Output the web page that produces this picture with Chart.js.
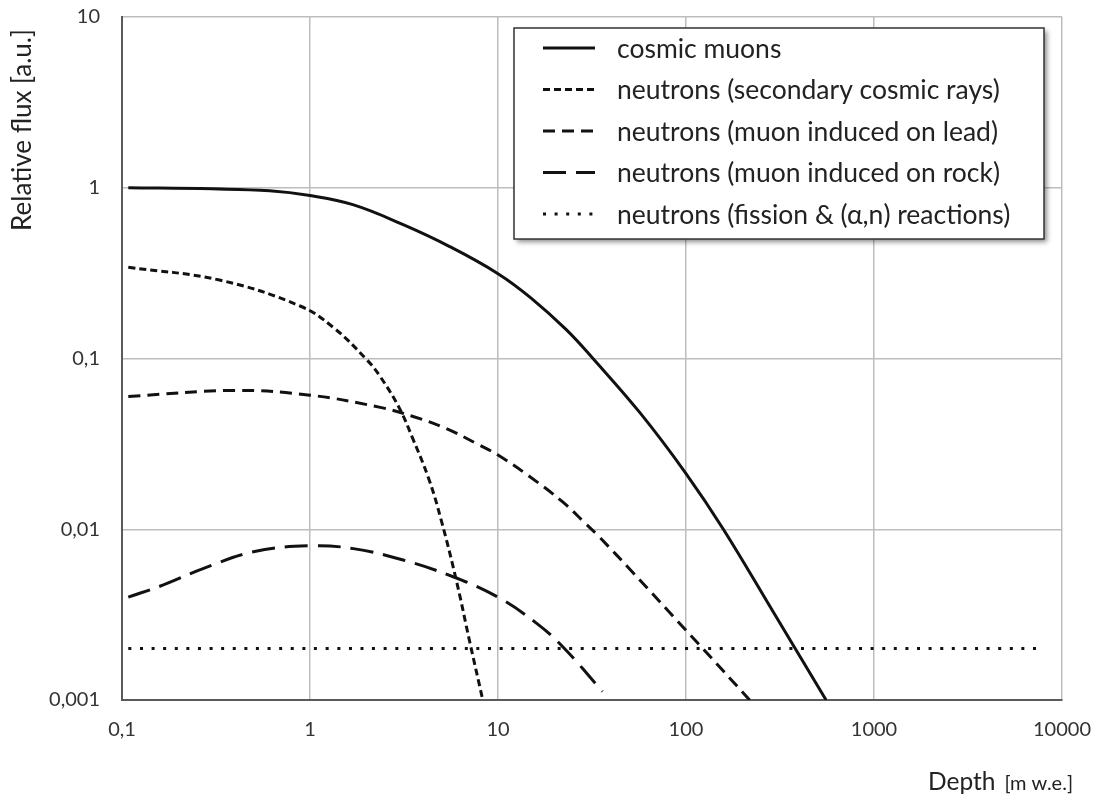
<!DOCTYPE html>
<html>
<head>
<meta charset="utf-8">
<script src="https://cdn.jsdelivr.net/npm/chart.js@4.4.1/dist/chart.umd.min.js"></script>
<style>
  html, body { margin: 0; padding: 0; background: #fff; }
</style>
</head>
<body>
<canvas id="fluxChart" width="1097" height="796"></canvas>
<script>
// Depth in m w.e. and relative flux for each component
const muonDepth = [0.108, 0.3, 0.61, 1, 1.69, 3.13, 5.5, 10, 15, 23, 32, 57, 100, 158, 300, 556];
const muonFlux  = [1.0, 0.985, 0.96, 0.9, 0.796, 0.608, 0.454, 0.314, 0.226, 0.148, 0.1, 0.048, 0.0212, 0.01, 0.0031, 0.001];

const secondaryDepth = [0.108, 0.33, 0.885, 1.33, 2.0, 2.355, 2.98, 3.5, 4.3, 5.0, 6.0, 7.1, 8.3];
const secondaryFlux  = [0.342, 0.288, 0.203, 0.152, 0.0986, 0.0788, 0.0515, 0.0345, 0.0195, 0.0112, 0.00503, 0.00215, 0.001];

const leadDepth = [0.108, 0.4, 1, 2.33, 3.5, 5.27, 7.93, 10, 14.6, 22, 29.2, 34.3, 52, 100, 123, 218];
const leadFlux  = [0.060, 0.065, 0.061, 0.0519, 0.0459, 0.039, 0.0312, 0.0272, 0.0205, 0.0145, 0.0108, 0.0091, 0.0056, 0.00256, 0.002, 0.001];

const rockDepth = [0.108, 0.166, 0.272, 0.5, 1, 1.7, 3.13, 5.77, 10, 16, 22.1, 36];
const rockFlux  = [0.0040, 0.00472, 0.0059, 0.00738, 0.0080, 0.0077, 0.0066, 0.00527, 0.0040, 0.00282, 0.00205, 0.00112];

const fissionDepth = [0.108, 7800];
const fissionFlux  = [0.002, 0.002];

const seriesNames = [
    'cosmic muons',
    'neutrons (secondary cosmic rays)',
    'neutrons (muon induced on lead)',
    'neutrons (muon induced on rock)',
    'neutrons (fission & (\u03b1,n) reactions)'
];

const xTickValues = [0.1, 1, 10, 100, 1000, 10000];
const xTickLabels = ['0,1', '1', '10', '100', '1000', '10000'];
const yTickValues = [0.001, 0.01, 0.1, 1, 10];
const yTickLabels = ['0,001', '0,01', '0,1', '1', '10'];

function toPoints(xs, ys) {
    return xs.map((x, i) => ({ x: x, y: ys[i] }));
}

const lineStyles = [
    { dash: [] },
    { dash: [7, 4] },
    { dash: [12, 7] },
    { dash: [23, 10] },
    { dash: [3, 8.6] }
];

const seriesData = [
    toPoints(muonDepth, muonFlux),
    toPoints(secondaryDepth, secondaryFlux),
    toPoints(leadDepth, leadFlux),
    toPoints(rockDepth, rockFlux),
    toPoints(fissionDepth, fissionFlux)
];

const datasets = seriesData.map((pts, i) => ({
    label: seriesNames[i],
    data: pts,
    borderColor: '#111',
    borderWidth: 3,
    borderDash: lineStyles[i].dash,
    pointRadius: 0,
    fill: false,
    tension: 0.4
}));

// legend box drawn inside the plot, with a soft drop shadow
const boxLegend = {
    id: 'boxLegend',
    afterDraw(chart) {
        const ctx = chart.ctx;
        const left = 514, top = 28, w = 530, h = 211;
        ctx.save();
        ctx.shadowColor = 'rgba(0,0,0,0.45)';
        ctx.shadowBlur = 5;
        ctx.shadowOffsetX = 3;
        ctx.shadowOffsetY = 3;
        ctx.fillStyle = '#fff';
        ctx.fillRect(left, top, w, h);
        ctx.restore();

        ctx.save();
        ctx.strokeStyle = '#333';
        ctx.lineWidth = 1.5;
        ctx.strokeRect(left, top, w, h);

        ctx.font = '26.5px Lato';
        ctx.fillStyle = '#222';
        ctx.textBaseline = 'middle';
        chart.data.datasets.forEach((ds, i) => {
            const y = 48 + i * 41.5;
            ctx.beginPath();
            ctx.setLineDash(ds.borderDash);
            ctx.lineWidth = ds.borderWidth;
            ctx.strokeStyle = ds.borderColor;
            ctx.moveTo(543, y);
            ctx.lineTo(595, y);
            ctx.stroke();
            ctx.setLineDash([]);
            ctx.fillText(ds.label, 617, y + 1);
        });
        ctx.restore();
    }
};

// axis titles: rotated y title near the top, x title with smaller unit text
const axisTitles = {
    id: 'axisTitles',
    afterDraw(chart) {
        const ctx = chart.ctx;
        ctx.save();
        ctx.fillStyle = '#222';
        ctx.translate(23, 130);
        ctx.rotate(-Math.PI / 2);
        ctx.font = '26px Lato';
        ctx.textAlign = 'center';
        ctx.textBaseline = 'middle';
        ctx.fillText('Relative flux [a.u.]', 0, 0);
        ctx.restore();

        ctx.save();
        ctx.fillStyle = '#222';
        ctx.textBaseline = 'alphabetic';
        ctx.font = '20px Lato';
        ctx.textAlign = 'right';
        const unit = '[m w.e.]';
        ctx.fillText(unit, 1073, 790);
        const uw = ctx.measureText(unit).width;
        ctx.font = '24.5px Lato';
        ctx.fillText('Depth', 1073 - uw - 9, 790);
        ctx.restore();
    }
};

new Chart(document.getElementById('fluxChart'), {
    type: 'line',
    data: { datasets: datasets },
    options: {
        responsive: false,
        animation: false,
        devicePixelRatio: 1,
        layout: { padding: { top: 17, right: 35, left: 0, bottom: 0 } },
        plugins: {
            legend: { display: false },
            tooltip: { enabled: false }
        },
        scales: {
            x: {
                type: 'logarithmic',
                min: 0.1,
                max: 10000,
                afterBuildTicks: s => { s.ticks = xTickValues.map(v => ({ value: v })); },
                afterFit: s => {
                    s.height = 96;
                    s.paddingLeft = 0;
                    s.paddingRight = 0;
                },
                ticks: {
                    callback: (v, i) => xTickLabels[i],
                    font: { family: 'Lato', size: 20 },
                    color: '#333',
                    padding: 18,
                    maxRotation: 0,
                    autoSkip: false
                },
                grid: { color: '#bdbdbd', lineWidth: 1.5, drawTicks: false },
                border: { color: '#5a5a5a', width: 2 }
            },
            y: {
                type: 'logarithmic',
                min: 0.001,
                max: 10,
                afterBuildTicks: s => { s.ticks = yTickValues.map(v => ({ value: v })); },
                afterFit: s => {
                    s.width = 122;
                    s.paddingTop = 0;
                    s.paddingBottom = 0;
                },
                ticks: {
                    callback: (v, i) => yTickLabels[i],
                    font: { family: 'Lato', size: 20 },
                    color: '#333',
                    padding: 22,
                    autoSkip: false
                },
                grid: { color: '#bdbdbd', lineWidth: 1.5, drawTicks: false },
                border: { color: '#5a5a5a', width: 2 }
            }
        }
    },
    plugins: [boxLegend, axisTitles]
});
</script>
</body>
</html>
